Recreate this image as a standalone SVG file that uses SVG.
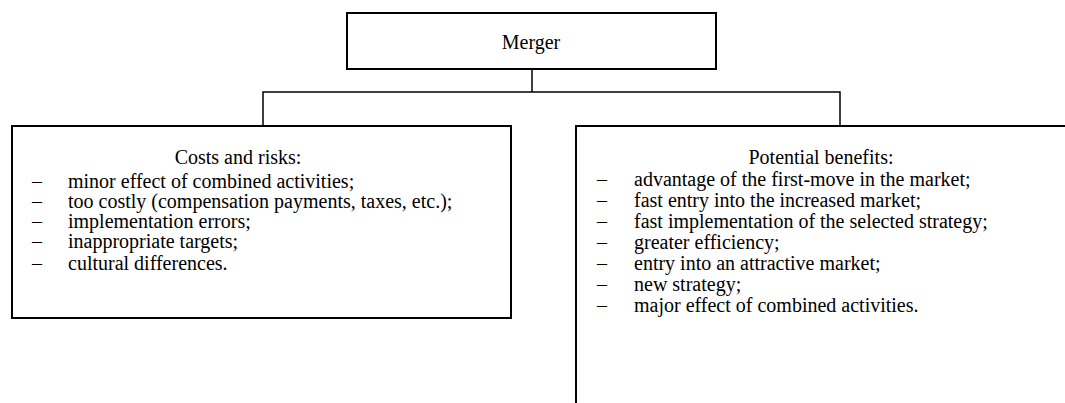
<svg xmlns="http://www.w3.org/2000/svg" width="1065" height="403" viewBox="0 0 1065 403">
<style>
.box{fill:#fff;stroke:#000;stroke-width:2}
.ln{fill:none;stroke:#000;stroke-width:1.5}
text{font-family:"Liberation Serif","Times New Roman",serif;font-size:20px;fill:#000}
.c{text-anchor:middle}
</style>
<rect width="1065" height="403" fill="#fff"/>
<g id="connectors">
<path class="ln" d="M532,69 V92 M263,125 V92 H840 V125"/>
</g>
<g id="merger">
<rect class="box" x="347" y="13" width="369" height="56"/>
<text class="c" x="531" y="49">Merger</text>
</g>
<g id="costs">
<rect class="box" x="12" y="126" width="499" height="192"/>
<text class="c" x="238" y="164">Costs and risks:</text>
<text x="32" y="188">–</text><text x="68" y="188">minor effect of combined activities;</text>
<text x="32" y="208">–</text><text x="68" y="208">too costly (compensation payments, taxes, etc.);</text>
<text x="32" y="228">–</text><text x="68" y="228">implementation errors;</text>
<text x="32" y="248">–</text><text x="68" y="248">inappropriate targets;</text>
<text x="32" y="270">–</text><text x="68" y="270">cultural differences.</text>
</g>
<g id="benefits">
<rect class="box" x="576" y="126" width="500" height="290"/>
<text class="c" x="821" y="164">Potential benefits:</text>
<text x="597" y="186">–</text><text x="634" y="186">advantage of the first-move in the market;</text>
<text x="597" y="207">–</text><text x="634" y="207">fast entry into the increased market;</text>
<text x="597" y="228">–</text><text x="634" y="228">fast implementation of the selected strategy;</text>
<text x="597" y="249">–</text><text x="634" y="249">greater efficiency;</text>
<text x="597" y="270">–</text><text x="634" y="270">entry into an attractive market;</text>
<text x="597" y="291">–</text><text x="634" y="291">new strategy;</text>
<text x="597" y="312">–</text><text x="634" y="312">major effect of combined activities.</text>
</g>
</svg>
